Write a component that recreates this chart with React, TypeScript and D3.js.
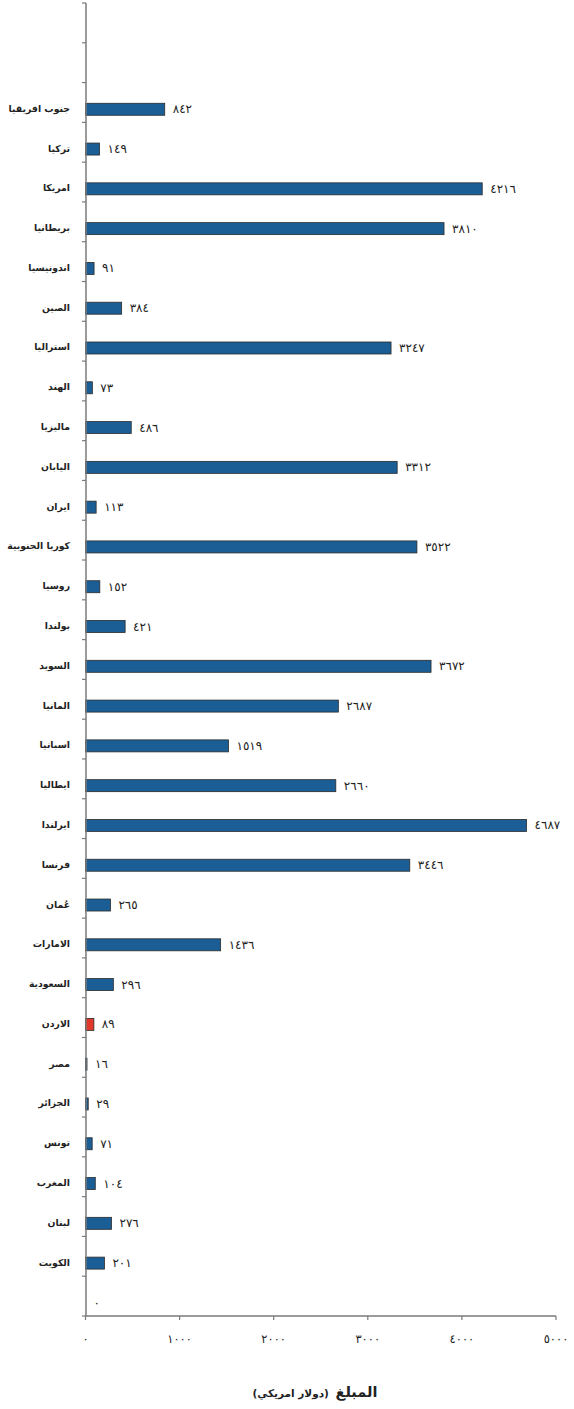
import React from "react";
import * as d3 from "d3";

const categories: string[] = [
  "", "",
  "جنوب افريقيا", "تركيا", "امريكا", "بريطانيا", "اندونيسيا", "الصين", "استراليا", "الهند",
  "ماليزيا", "اليابان", "ايران", "كوريا الجنوبية", "روسيا", "بولندا", "السويد", "المانيا",
  "اسبانيا", "ايطاليا", "ايرلندا", "فرنسا", "عُمان", "الامارات", "السعودية", "الاردن",
  "مصر", "الجزائر", "تونس", "المغرب", "لبنان", "الكويت", "",
];
const values: (number | null)[] = [
  null, null,
  842, 149, 4216, 3810, 91, 384, 3247, 73,
  486, 3312, 113, 3522, 152, 421, 3672, 2687,
  1519, 2660, 4687, 3446, 265, 1436, 296, 89,
  16, 29, 71, 104, 276, 201, 0,
];
const highlighted = ["الاردن"];
const xTicks = [0, 1000, 2000, 3000, 4000, 5000];
const axisTitleMain = "المبلغ";
const axisTitleUnit = "(دولار امريكي)";

const toArabic = (n: number) => String(n).replace(/[0-9]/g, (d) => "٠١٢٣٤٥٦٧٨٩"[+d]);

const W = 574, H = 1409;
const FONT = "'DejaVu Sans', sans-serif";

export default function App() {
  const x = d3.scaleLinear().domain([0, 5000]).range([85.5, 556]);
  const y = d3.scaleBand<number>().domain(d3.range(categories.length)).range([3, 1316]).paddingInner(0);
  const bw = y.bandwidth();
  const barH = 12;
  const barOff = bw * 0.52;
  const axisColor = "#7a7a7a";
  const boundaries = [...d3.range(categories.length).map((i) => y(i)!), 1316];

  return (
    <svg width={W} height={H} style={{ position: "absolute", left: 0, top: 0, background: "#fff" }}>
      {/* bars */}
      {categories.map((c, i) => {
        const v = values[i];
        if (v === null) return null;
        const top = y(i)! + barOff;
        const isHi = highlighted.includes(c);
        return (
          <g key={i}>
            {v > 0 && (
              <rect
                x={x(0)}
                y={top}
                width={x(v) - x(0)}
                height={barH}
                fill={isHi ? "#e0392b" : "#1b5e95"}
                stroke="#2b2b2b"
                strokeWidth={0.8}
              />
            )}
            <text
              x={x(v) + 8}
              y={top + barH / 2}
              dominantBaseline="central"
              fontFamily={FONT}
              fontSize={12}
              fill="#222"
              letterSpacing={1.5}
            >
              {toArabic(v)}
            </text>
            {c && (
              <text
                x={70}
                y={top + barH / 2 - 1}
                dominantBaseline="central"
                textAnchor="end"
                fontFamily={FONT}
                fontSize={9.3}
                fontWeight="bold"
                fill="#222"
              >
                {c}
              </text>
            )}
          </g>
        );
      })}

      {/* y axis */}
      <line x1={86} x2={86} y1={3} y2={1316} stroke={axisColor} strokeWidth={1.5} />
      {boundaries.map((b, i) => (
        <line key={i} x1={82} x2={86} y1={b} y2={b} stroke={axisColor} strokeWidth={1.2} />
      ))}

      {/* x axis */}
      <line x1={85.5} x2={556} y1={1316} y2={1316} stroke={axisColor} strokeWidth={1.5} />
      {xTicks.map((t) => (
        <g key={t}>
          <line x1={x(t)} x2={x(t)} y1={1316} y2={1320} stroke={axisColor} strokeWidth={1.2} />
          <text
            x={x(t)}
            y={1339}
            textAnchor="middle"
            dominantBaseline="central"
            fontFamily={FONT}
            fontSize={11.5}
            fill="#222"
            letterSpacing={1.5}
          >
            {toArabic(t)}
          </text>
        </g>
      ))}

      {/* axis title */}
      <text
        x={315}
        y={1397}
        textAnchor="middle"
        direction="rtl"
        fontFamily={FONT}
        fontWeight="bold"
        fill="#222"
      >
        <tspan fontSize={14.5}>{axisTitleMain}</tspan>
        <tspan fontSize={10.5} dx={-3}>{" " + axisTitleUnit}</tspan>
      </text>
    </svg>
  );
}
